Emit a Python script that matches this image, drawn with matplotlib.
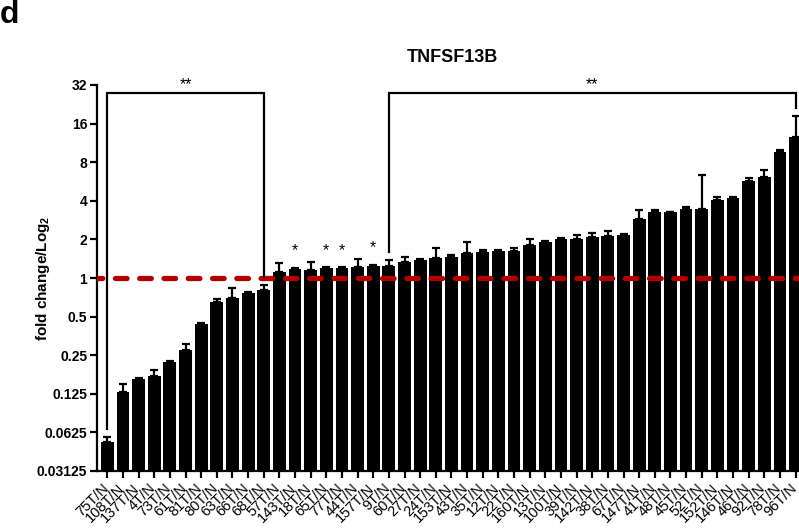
import matplotlib
matplotlib.use("Agg")
import matplotlib.pyplot as plt
import matplotlib.transforms as mtransforms
import numpy as np

plt.rcParams['font.family'] = ['Liberation Sans', 'DejaVu Sans']
plt.rcParams['mathtext.fontset'] = 'custom'
plt.rcParams['mathtext.rm'] = 'Liberation Sans:bold'
plt.rcParams['mathtext.bf'] = 'Liberation Sans:bold'

samples = ['75T/N', '108T/N', '137T/N', '4T/N', '73T/N', '61T/N', '81T/N', '80T/N',
           '63T/N', '66T/N', '68T/N', '57T/N', '143T/N', '18T/N', '65T/N', '77T/N',
           '44T/N', '157T/N', '9T/N', '60T/N', '27T/N', '24T/N', '153T/N', '43T/N',
           '35T/N', '12T/N', '22T/N', '160T/N', '13T/N', '100T/N', '39T/N', '142T/N',
           '38T/N', '67T/N', '147T/N', '41T/N', '48T/N', '45T/N', '52T/N', '152T/N',
           '146T/N', '46T/N', '92T/N', '78T/N', '96T/N']
fold = [0.053, 0.13, 0.163, 0.173, 0.22, 0.274, 0.438, 0.646,
        0.694, 0.76, 0.81, 1.11, 1.18, 1.15, 1.19, 1.19,
        1.225, 1.23, 1.23, 1.34, 1.39, 1.42, 1.45, 1.57,
        1.59, 1.63, 1.61, 1.81, 1.92, 2.01, 2.01, 2.10,
        2.14, 2.16, 2.88, 3.25, 3.25, 3.45, 3.45, 4.08,
        4.21, 5.67, 6.16, 9.55, 12.5]
sem = [0.005, 0.019, 0.004, 0.019, 0.004, 0.032, 0.004, 0.041,
       0.136, 0.02, 0.07, 0.19, 0.02, 0.19, 0.03, 0.03,
       0.185, 0.04, 0.15, 0.11, 0.02, 0.29, 0.07, 0.33,
       0.06, 0.03, 0.10, 0.20, 0.03, 0.03, 0.15, 0.14,
       0.17, 0.03, 0.51, 0.16, 0.04, 0.15, 2.9, 0.18,
       0.05, 0.32, 0.84, 0.35, 5.9]
single_star = ['143T/N', '65T/N', '77T/N', '157T/N']
groups = [('75T/N', '68T/N'), ('9T/N', '96T/N')]
yticks = [0.03125, 0.0625, 0.125, 0.25, 0.5, 1, 2, 4, 8, 16, 32]
ytick_labels = ['0.03125', '0.0625', '0.125', '0.25', '0.5', '1', '2', '4', '8', '16', '32']

fold = np.array(fold)
sem = np.array(sem)
x = np.arange(len(samples))
ymin, ymax = yticks[0], yticks[-1]

fig = plt.figure(figsize=(7.99, 5.29), dpi=100)
ax = fig.add_axes([97 / 799, 58 / 529, 702 / 799, 386 / 529])
ax.set_yscale('log', base=2)
ax.set_ylim(ymin, ymax)
ax.set_xlim(-0.66, 44.22)

ax.errorbar(x, fold, yerr=[np.zeros_like(sem), sem], fmt='none', ecolor='black',
            elinewidth=1.6, capsize=3, capthick=1.6, zorder=2)
ax.bar(x, fold - ymin, bottom=ymin, width=0.82, color='black', zorder=3)

# reference level at fold change = 1
ax.axhline(1, color='#b00000', lw=3.8, ls=(1.2, (2.2, 2.4)),
           dash_capstyle='round', zorder=4)

# significance brackets
top = 27.7
for a, b in groups:
    i0, i1 = samples.index(a), samples.index(b)
    ax.plot([i0, i0, i1, i1],
            [(fold[i0] + sem[i0]) * 1.15, top, top, (fold[i1] + sem[i1]) * 1.15],
            color='black', lw=1.6, solid_joinstyle='miter', zorder=5)
    ax.text((i0 + i1) / 2, top * 1.02, '**', ha='center', va='bottom', fontsize=11.5)
for s in single_star:
    i = samples.index(s)
    ax.text(i, (fold[i] + sem[i]) * 1.18, '*', ha='center', va='bottom', fontsize=11.5)

for side in ['top', 'right']:
    ax.spines[side].set_visible(False)
for side in ['left', 'bottom']:
    ax.spines[side].set_linewidth(1.6)

ax.set_yticks(yticks)
ax.set_yticklabels(ytick_labels, fontweight='bold', fontsize=10)
ax.yaxis.set_minor_locator(matplotlib.ticker.NullLocator())
ax.tick_params(axis='y', length=5, width=1.6, pad=2)

ax.set_xticks(x)
ax.set_xticklabels(samples, rotation=45, ha='right', va='top',
                   rotation_mode='anchor', fontsize=10.5)
ax.tick_params(axis='x', length=5, width=1.6, pad=2)
# nudge the slanted sample names a little to the left of their ticks
shift = mtransforms.ScaledTranslation(-6 / 100, 0, fig.dpi_scale_trans)
for lab in ax.get_xticklabels():
    lab.set_transform(lab.get_transform() + shift)

fig.text(43 / 799, 1 - 278 / 529, 'fold change/Log$_2$', rotation=90,
         ha='center', va='center', fontsize=11, fontweight='bold')
fig.text(452 / 799, 1 - 57 / 529, 'TNFSF13B', ha='center', va='center',
         fontsize=13, fontweight='bold')
fig.text(0.0, 1.0, 'd', ha='left', va='top', fontsize=23, fontweight='bold')

fig.savefig('out.png', dpi=100, facecolor='white')
